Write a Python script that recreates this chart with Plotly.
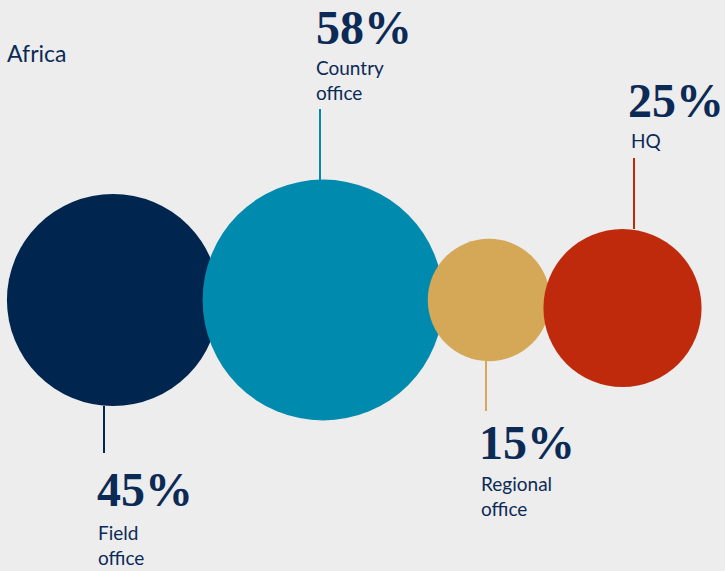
import plotly.graph_objects as go

# ---- data ----
categories = ["Field office", "Country office", "Regional office", "HQ"]
values = [45, 58, 15, 25]
label_lines = [["Field", "office"], ["Country", "office"], ["Regional", "office"], ["HQ"]]
region = "Africa"

# ---- layout / style (pixel-space coordinates on the chart canvas) ----
W, H = 725, 571
BG = "#ededed"
TEXT = "#0c2a56"
colors = ["#002650", "#008aad", "#d4a857", "#be2a0b"]
cx = [113, 323, 489, 622.5]
cy = [300, 300, 300, 308]
SIZEREF = 0.002  # area-mode marker scaling

# leader lines: (x, y_start, y_end)
leaders = [(104, 406, 453), (320, 109, 180), (486, 361, 411), (634, 158, 229)]
# percent label anchor (left x, middle y) and name label anchor, per category
pct_pos = [(95, 489), (314, 27), (477, 442), (626, 100)]
name_pos = [(96, 545), (314, 79.5), (479, 495.5), (629, 140.5)]

fig = go.Figure()
for i, (cat, v) in enumerate(zip(categories, values)):
    fig.add_trace(go.Scatter(
        x=[cx[i]], y=[cy[i]], mode="markers", name=cat,
        marker=dict(size=[v], sizemode="area", sizeref=SIZEREF,
                    color=colors[i], line=dict(width=0), opacity=1),
        cliponaxis=False, hoverinfo="name", showlegend=False,
    ))

shapes = []
for i, (lx, y0, y1) in enumerate(leaders):
    shapes.append(dict(type="line", xref="x", yref="y", x0=lx, x1=lx, y0=y0, y1=y1,
                       line=dict(color=colors[i], width=2), layer="below"))

annotations = [dict(x=5, y=52.5, xref="x", yref="y", text=region, showarrow=False,
                    xanchor="left", yanchor="middle",
                    font=dict(family="Lato", size=23, color=TEXT))]
for i, v in enumerate(values):
    px, py = pct_pos[i]
    annotations.append(dict(x=px, y=py, xref="x", yref="y", text=f"{v}%", showarrow=False,
                            xanchor="left", yanchor="middle",
                            font=dict(family="Liberation Serif", size=48, color=TEXT, weight=700)))
    nx, ny = name_pos[i]
    annotations.append(dict(x=nx, y=ny, xref="x", yref="y", text="<br>".join(label_lines[i]),
                            showarrow=False, xanchor="left", yanchor="middle", align="left",
                            font=dict(family="Lato", size=19, color=TEXT)))

fig.update_layout(
    width=W, height=H, margin=dict(l=0, r=0, t=0, b=0),
    paper_bgcolor=BG, plot_bgcolor=BG,
    xaxis=dict(range=[0, W], visible=False, fixedrange=True),
    yaxis=dict(range=[H, 0], visible=False, fixedrange=True),
    shapes=shapes, annotations=annotations, showlegend=False,
)
fig.write_html(
    "out.html",
    config={"displayModeBar": False},
    post_script="document.body.style.margin='0';document.body.style.overflow='hidden';",
)
